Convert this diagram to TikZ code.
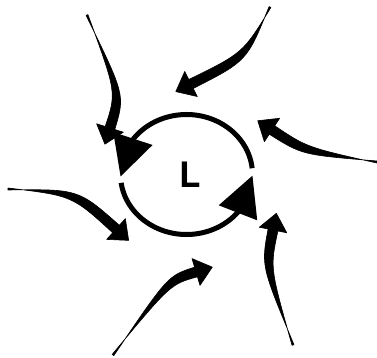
\documentclass[tikz,border=0pt]{standalone}
\usepackage{fontspec}
\setmainfont{TeX Gyre Heros}
\usetikzlibrary{arrows.meta,calc,bending}
\tikzset{
  cyclearc/.style ={line width=5pt,-{Triangle[length=40pt,width=40pt,flex]}},
  inflow/.style   ={fill=black,draw=black,line width=0.6pt,line join=round},
  centre/.style   ={font=\bfseries\fontsize{35}{35}\selectfont,inner sep=0pt}
}
% tapered inflow arrow: tail start, control point, head base
\newcommand{\inflowarrow}[3]{%
  \path[inflow] ($(#1)!1pt!90:(#2)$) .. controls ($(#2)!4.5pt!-90:(#3)$) .. ($(#3)!5pt!90:(#2)$)
    -- ($(#3)!14pt!90:(#2)$) -- ($(#3)!-17pt!(#2)$) -- ($(#3)!14pt!-90:(#2)$)
    -- ($(#3)!5pt!-90:(#2)$) .. controls ($(#2)!4.5pt!90:(#3)$) .. ($(#1)!1pt!-90:(#2)$) -- cycle;}
\begin{document}
\begin{tikzpicture}[x=1pt,y=-1pt]
  \useasboundingbox (0,0) rectangle (377,358);
  \coordinate (cen) at (186.5,174.5);
  \node[centre] (low) at (190,175) {L};
  % circulation round the low
  \draw[cyclearc] ([shift={(-6:66 and 60)}]cen) arc[start angle=-6,end angle=-182,x radius=66,y radius=60];
  \draw[cyclearc] ([shift={(172:66 and 60)}]cen) arc[start angle=172,end angle=1,x radius=66,y radius=60];
  % inflow from outside
  \coordinate (n1s) at (87,15);   \coordinate (n1c) at (120.8,93.8); \coordinate (n1e) at (110,128);
  \coordinate (n2s) at (270,7);   \coordinate (n2c) at (245,57);     \coordinate (n2e) at (191,84);
  \coordinate (n3s) at (377,162); \coordinate (n3c) at (304.5,151.1);\coordinate (n3e) at (272,130);
  \coordinate (n4s) at (293,345); \coordinate (n4c) at (265.6,266.8);\coordinate (n4e) at (273,230);
  \coordinate (n5s) at (113,355); \coordinate (n5c) at (169.2,280);  \coordinate (n5e) at (196,272);
  \coordinate (n6s) at (8,189);   \coordinate (n6c) at (75.3,192.4); \coordinate (n6e) at (116,229);
  \inflowarrow{n1s}{n1c}{n1e}
  \inflowarrow{n2s}{n2c}{n2e}
  \inflowarrow{n3s}{n3c}{n3e}
  \inflowarrow{n4s}{n4c}{n4e}
  \inflowarrow{n5s}{n5c}{n5e}
  \inflowarrow{n6s}{n6c}{n6e}
\end{tikzpicture}
\end{document}
